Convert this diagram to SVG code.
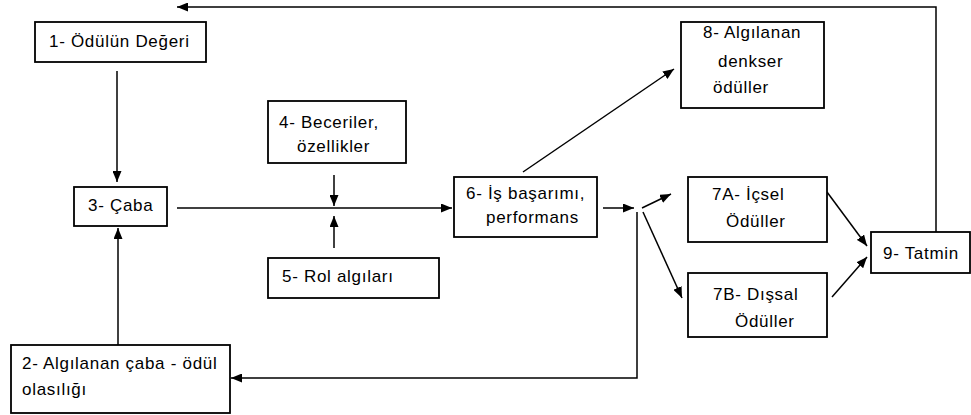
<svg xmlns="http://www.w3.org/2000/svg" width="971" height="415" viewBox="0 0 971 415">
<style>
.box{fill:#fff;stroke:#000;stroke-width:1.8}
.t{font-family:"Liberation Sans",Arial,sans-serif;font-size:17px;letter-spacing:0.7px;fill:#000}
.c{fill:none;stroke:#000;stroke-width:1.5}
</style>
<defs>
<marker id="ah" markerUnits="userSpaceOnUse" markerWidth="11" markerHeight="9" refX="11" refY="4.5" orient="auto">
<path d="M0,0 L11,4.5 L0,9 z" fill="#000"/>
</marker>
</defs>
<rect width="971" height="415" fill="#fff"/>
<g id="connectors">
<line class="c" x1="117" y1="71" x2="117" y2="182" marker-end="url(#ah)"/>
<line class="c" x1="118" y1="345" x2="118" y2="228" marker-end="url(#ah)"/>
<line class="c" x1="177" y1="208" x2="452" y2="208" marker-end="url(#ah)"/>
<line class="c" x1="334" y1="175" x2="334" y2="206" marker-end="url(#ah)"/>
<line class="c" x1="334" y1="248" x2="334" y2="216" marker-end="url(#ah)"/>
<line class="c" x1="603" y1="208" x2="634" y2="208" marker-end="url(#ah)"/>
<line class="c" x1="642" y1="208" x2="671" y2="194" marker-end="url(#ah)"/>
<line class="c" x1="643" y1="212" x2="682" y2="298" marker-end="url(#ah)"/>
<polyline class="c" points="637,212 637,378 231,378" marker-end="url(#ah)"/>
<line class="c" x1="523" y1="172" x2="674" y2="69" marker-end="url(#ah)"/>
<line class="c" x1="827" y1="192" x2="867" y2="246" marker-end="url(#ah)"/>
<line class="c" x1="832" y1="297" x2="867" y2="257" marker-end="url(#ah)"/>
<polyline class="c" points="936,232 936,7 177,7" marker-end="url(#ah)"/>
</g>
<g id="n1"><rect class="box" x="35" y="22" width="171" height="40"/><text class="t" x="49" y="47">1- Ödülün Değeri</text></g>
<g id="n2"><rect class="box" x="11" y="345" width="219" height="68"/><text class="t" x="22" y="369">2- Algılanan çaba - ödül</text><text class="t" x="22" y="395">olasılığı</text></g>
<g id="n3"><rect class="box" x="74" y="187" width="93" height="39"/><text class="t" x="88" y="211">3- Çaba</text></g>
<g id="n4"><rect class="box" x="268" y="101" width="138" height="62"/><text class="t" x="279" y="128">4- Beceriler,</text><text class="t" x="297" y="152">özellikler</text></g>
<g id="n5"><rect class="box" x="268" y="258" width="171" height="40"/><text class="t" x="282" y="282">5- Rol algıları</text></g>
<g id="n6"><rect class="box" x="454" y="177" width="143" height="60"/><text class="t" x="466" y="199">6- İş başarımı,</text><text class="t" x="486" y="223">performans</text></g>
<g id="n7a"><rect class="box" x="688" y="177" width="139" height="65"/><text class="t" x="712" y="200">7A- İçsel</text><text class="t" x="726" y="227">Ödüller</text></g>
<g id="n7b"><rect class="box" x="688" y="273" width="139" height="64"/><text class="t" x="713" y="300">7B- Dışsal</text><text class="t" x="735" y="327">Ödüller</text></g>
<g id="n8"><rect class="box" x="681" y="22" width="143" height="86"/><text class="t" x="703" y="38">8- Algılanan</text><text class="t" x="718" y="67">denkser</text><text class="t" x="713" y="93">ödüller</text></g>
<g id="n9"><rect class="box" x="871" y="232" width="99" height="41"/><text class="t" x="883" y="259">9- Tatmin</text></g>
</svg>
